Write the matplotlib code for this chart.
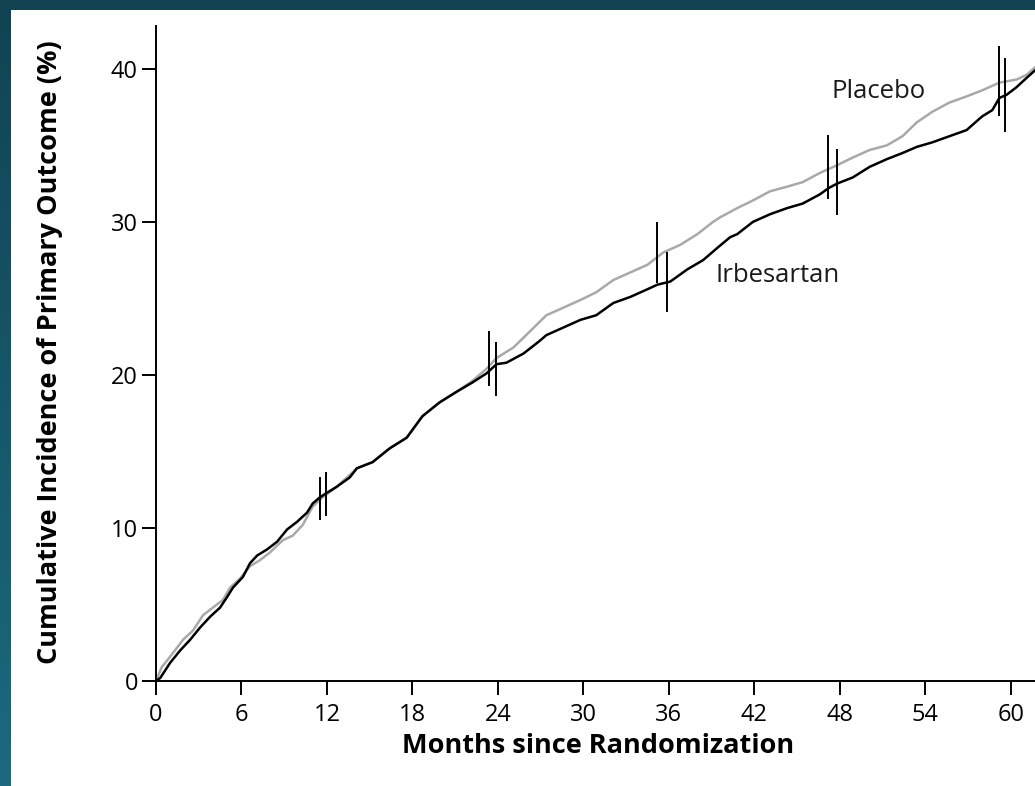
import numpy as np
import matplotlib
matplotlib.use("Agg")
import matplotlib.pyplot as plt
from matplotlib.patches import Rectangle
from matplotlib.colors import LinearSegmentedColormap

# ---- data ----
irb_months = [0, 0.3, 1.0, 1.7, 2.4, 3.1, 3.8, 4.5, 5.0, 5.4, 6.1, 6.6, 7.1, 7.8, 8.5,
              9.2, 9.9, 10.6, 11.0, 11.5, 12.0, 12.7, 13.6, 14.1, 15.2, 16.4, 17.6,
              18.7, 19.9, 21.1, 22.2, 23.2, 23.9, 24.6, 25.8, 26.9, 27.4, 28.6, 29.8,
              30.9, 32.1, 33.3, 34.5, 35.2, 36.1, 37.3, 38.4, 39.4, 40.3, 40.8, 41.9,
              43.1, 44.3, 45.4, 46.6, 47.2, 47.8, 48.9, 50.1, 51.3, 52.4, 53.4, 54.5,
              55.7, 56.9, 58.0, 58.7, 59.2, 59.7, 60.4, 61.1, 61.7]
irb_values = [0, 0.2, 1.2, 2.0, 2.7, 3.5, 4.2, 4.8, 5.5, 6.1, 6.8, 7.7, 8.2, 8.6, 9.1,
              9.9, 10.4, 11.0, 11.6, 12.0, 12.3, 12.7, 13.3, 13.9, 14.3, 15.2, 15.9,
              17.3, 18.2, 18.9, 19.5, 20.1, 20.7, 20.8, 21.4, 22.2, 22.6, 23.1, 23.6,
              23.9, 24.7, 25.1, 25.6, 25.9, 26.1, 26.9, 27.5, 28.3, 29.0, 29.2, 30.0,
              30.5, 30.9, 31.2, 31.8, 32.2, 32.5, 32.9, 33.6, 34.1, 34.5, 34.9, 35.2,
              35.6, 36.0, 36.9, 37.3, 38.1, 38.3, 38.8, 39.4, 39.9]

pla_months = [0, 0.4, 1.0, 1.9, 2.6, 3.3, 4.0, 4.7, 5.2, 5.9, 6.6, 7.3, 8.0, 8.9, 9.6,
              10.3, 11.0, 11.7, 12.7, 14.1, 15.2, 16.4, 17.6, 18.7, 19.9, 21.1, 22.2,
              23.2, 23.9, 25.1, 26.2, 27.4, 28.6, 29.8, 30.9, 32.1, 33.3, 34.5, 35.6,
              36.8, 38.0, 39.1, 39.6, 40.8, 41.9, 43.1, 44.3, 45.4, 46.6, 47.8, 48.9,
              50.1, 51.3, 52.4, 53.4, 54.5, 55.7, 56.9, 58.0, 59.2, 60.4, 61.1, 61.7]
pla_values = [0, 0.9, 1.6, 2.7, 3.3, 4.3, 4.8, 5.3, 6.1, 6.7, 7.5, 7.9, 8.4, 9.2, 9.5,
              10.2, 11.4, 12.0, 12.7, 13.9, 14.3, 15.2, 15.9, 17.3, 18.2, 18.9, 19.6,
              20.4, 21.1, 21.8, 22.8, 23.9, 24.4, 24.9, 25.4, 26.2, 26.7, 27.2, 28.0,
              28.5, 29.2, 30.0, 30.3, 30.9, 31.4, 32.0, 32.3, 32.6, 33.2, 33.7, 34.2,
              34.7, 35.0, 35.6, 36.5, 37.2, 37.8, 38.2, 38.6, 39.1, 39.3, 39.6, 40.1]

# confidence bars
pla_bar_months = [11.5, 23.4, 35.2, 47.2, 59.2]
pla_bar_center = [11.9, 21.1, 28.0, 33.6, 39.2]
pla_bar_half = [1.4, 1.8, 2.0, 2.1, 2.3]
irb_bar_months = [11.9, 23.9, 35.9, 47.8, 59.6]
irb_bar_center = [12.2, 20.4, 26.05, 32.6, 38.3]
irb_bar_half = [1.45, 1.75, 1.95, 2.15, 2.4]

x_ticks = list(range(0, 61, 6))
y_ticks = [0, 10, 20, 30, 40]

# ---- figure ----
W, H = 1035, 786
fig = plt.figure(figsize=(W / 100, H / 100), dpi=100)
plt.rcParams['font.family'] = ['Open Sans', 'DejaVu Sans']

bg = fig.add_axes([0, 0, 1, 1], zorder=-10)
grad = np.linspace(0, 1, 256).reshape(-1, 1)
cmap = LinearSegmentedColormap.from_list('teal', ['#114352', '#1b6a7f'])
bg.imshow(grad, aspect='auto', cmap=cmap, extent=[0, 1, 0, 1], origin='upper')
bg.axis('off')
fig.patches.append(Rectangle((11 / W, 0), 1 - 11 / W, 1 - 10 / H, transform=fig.transFigure,
                             facecolor='white', edgecolor='none', zorder=-5))

left = 156 / W
bottom = (H - 681) / H
ax = fig.add_axes([left, bottom, 1 - left, (681 - 26) / H])
ax.set_facecolor('none')
ax.set_xlim(0, 61.7)
ax.set_ylim(0, 42.8)

ax.plot(pla_months, pla_values, color='#a9a9a9', lw=1.8, zorder=2)
ax.plot(irb_months, irb_values, color='black', lw=1.8, zorder=3)

ax.vlines(pla_bar_months, np.array(pla_bar_center) - np.array(pla_bar_half),
          np.array(pla_bar_center) + np.array(pla_bar_half), color='black', lw=1.4, zorder=4)
ax.vlines(irb_bar_months, np.array(irb_bar_center) - np.array(irb_bar_half),
          np.array(irb_bar_center) + np.array(irb_bar_half), color='black', lw=1.4, zorder=4)

ax.text(47.4, 38.5, 'Placebo', fontsize=18.5, color='#1a1a1a', va='center', ha='left')
ax.text(39.3, 26.5, 'Irbesartan', fontsize=18.5, color='#1a1a1a', va='center', ha='left')

for s in ['top', 'right']:
    ax.spines[s].set_visible(False)
for s in ['left', 'bottom']:
    ax.spines[s].set_linewidth(1.4)
    ax.spines[s].set_color('black')
ax.set_xticks(x_ticks)
ax.set_yticks(y_ticks)
ax.tick_params(axis='both', length=10, width=1.4, labelsize=17, colors='black')
ax.tick_params(axis='x', pad=6)
ax.tick_params(axis='y', pad=3)

fig.text(598 / W, 1 - 746 / H, 'Months since Randomization', fontsize=19.5, fontweight='bold',
         ha='center', va='center')
fig.text(50 / W, 1 - 352 / H, 'Cumulative Incidence of Primary Outcome (%)', fontsize=19.5,
         fontweight='bold', ha='center', va='center', rotation=90)

fig.savefig('out.png', dpi=100)
